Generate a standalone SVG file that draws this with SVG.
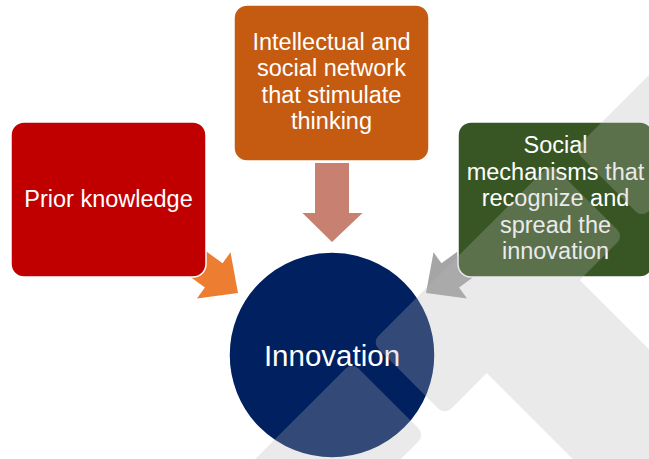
<svg xmlns="http://www.w3.org/2000/svg" width="649" height="459" viewBox="0 0 649 459">
<style>
.box{stroke:#ffffff;stroke-width:1.5}
.lbl{font-family:"Liberation Sans",Arial,sans-serif;font-size:23.5px;fill:#ffffff;text-anchor:middle}
.big{font-size:29.5px}
</style>
<rect width="649" height="459" fill="#ffffff"/>
<g id="connectors">
<polygon id="arrow-prior" points="0,0 -30,-28.5 -30,-15 -80,-15 -80,15 -30,15 -30,28.5" fill="#ed7d31" transform="translate(238,293) rotate(36)"/>
<polygon id="arrow-network" points="315,163 349,163 349,213 362.5,213 332,242 302.5,213 315,213" fill="#c88070"/>
<polygon id="arrow-social" points="0,0 -30,-28.5 -30,-15 -80,-15 -80,15 -30,15 -30,28.5" fill="#a5a5a5" transform="translate(426,293) rotate(144)"/>
</g>
<g id="node-prior">
<rect class="box" x="11" y="122" width="195" height="155" rx="13" fill="#c00000"/>
<text class="lbl" x="108.5" y="207">Prior knowledge</text>
</g>
<g id="node-network">
<rect class="box" x="234" y="5" width="195" height="156" rx="13" fill="#c55a11"/>
<text class="lbl" x="331.5" y="50">Intellectual and</text>
<text class="lbl" x="331.5" y="76.3">social network</text>
<text class="lbl" x="331.5" y="102.6">that stimulate</text>
<text class="lbl" x="331.5" y="129">thinking</text>
</g>
<g id="node-social">
<rect class="box" x="458" y="122" width="195" height="155" rx="13" fill="#375623"/>
<text class="lbl" x="555.5" y="153.3">Social</text>
<text class="lbl" x="555.5" y="180">mechanisms that</text>
<text class="lbl" x="555.5" y="206.3">recognize and</text>
<text class="lbl" x="555.5" y="232.7">spread the</text>
<text class="lbl" x="555.5" y="259.3">innovation</text>
</g>
<g id="node-innovation">
<circle class="box" cx="332" cy="355" r="103" fill="#002060"/>
<text class="lbl big" x="332" y="366">Innovation</text>
</g>
<g id="watermark" transform="rotate(45)" fill="#b7b7b7" opacity="0.28">
<rect x="512" y="-600" width="96" height="300" rx="9"/>
<rect x="505" y="-274" width="103" height="253" rx="9"/>
<rect x="505" y="7" width="103" height="300" rx="9"/>
<rect x="590" y="-212" width="300" height="131.6" rx="9"/>
</g>
</svg>
